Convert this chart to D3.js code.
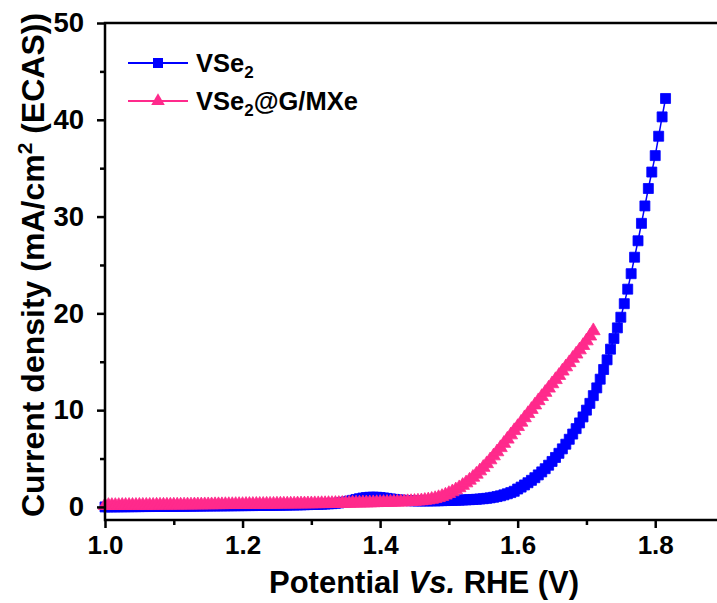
<!DOCTYPE html>
<html>
<head>
<meta charset="utf-8">
<script src="https://cdn.jsdelivr.net/npm/d3@7"></script>
<style>
  body { margin: 0; background: #fff; }
  text { font-family: Arial, "Liberation Sans", sans-serif; font-weight: bold; }
</style>
</head>
<body>
<script>
// Potential sweep (V): start and step of the recorded points
var startPotential = 1.0;
var stepPotential = 0.005;

// VSe2 current density, one value per step from 1.000 V to 1.815 V
var vse2Values = [
  0.00, 0.00, 0.01, 0.01, 0.01, 0.02, 0.02, 0.02, 0.03, 0.03, 0.03, 0.04, 0.04, 0.04, 0.05, 0.05, 0.05, 0.06, 0.06, 0.06,
  0.07, 0.07, 0.07, 0.08, 0.08, 0.08, 0.09, 0.09, 0.09, 0.10, 0.10, 0.10, 0.11, 0.11, 0.11, 0.12, 0.12, 0.12, 0.13, 0.13,
  0.13, 0.14, 0.14, 0.14, 0.15, 0.15, 0.16, 0.16, 0.17, 0.17, 0.18, 0.18, 0.19, 0.19, 0.20, 0.20, 0.21, 0.22, 0.23, 0.24,
  0.25, 0.26, 0.27, 0.28, 0.30, 0.32, 0.34, 0.37, 0.41, 0.46, 0.52, 0.60, 0.68, 0.77, 0.85, 0.92, 0.97, 1.00, 1.01, 1.00,
  0.97, 0.93, 0.88, 0.83, 0.78, 0.74, 0.71, 0.68, 0.66, 0.64, 0.63, 0.62, 0.62, 0.62, 0.62, 0.63, 0.63, 0.64, 0.65, 0.66,
  0.67, 0.68, 0.69, 0.70, 0.72, 0.73, 0.75, 0.77, 0.79, 0.82, 0.85, 0.89, 0.94, 1.00, 1.07, 1.15, 1.25, 1.36, 1.48, 1.62,
  1.85, 2.05, 2.27, 2.50, 2.75, 3.02, 3.31, 3.62, 3.95, 4.31, 4.70, 5.11, 5.54, 6.00, 6.48, 6.99, 7.53, 8.09, 8.68, 9.30,
  10.0, 10.7, 11.5, 12.3, 13.2, 14.2, 15.2, 16.3, 17.4, 18.5, 19.6, 21.0, 22.5, 24.1, 25.8, 27.5, 29.3, 31.1, 32.9, 34.6,
  36.3, 38.3, 40.3, 42.2
];

// VSe2@G/MXe current density, one value per step from 1.000 V to 1.710 V
var vse2gmxValues = [
  0.15, 0.15, 0.15, 0.15, 0.15, 0.16, 0.16, 0.16, 0.16, 0.16, 0.17, 0.17, 0.17, 0.17, 0.17, 0.18, 0.18, 0.18, 0.18, 0.18,
  0.19, 0.19, 0.19, 0.20, 0.20, 0.20, 0.21, 0.21, 0.21, 0.22, 0.22, 0.22, 0.23, 0.23, 0.23, 0.24, 0.24, 0.24, 0.25, 0.25,
  0.25, 0.26, 0.26, 0.26, 0.27, 0.27, 0.27, 0.28, 0.28, 0.28, 0.29, 0.29, 0.29, 0.30, 0.30, 0.30, 0.31, 0.31, 0.31, 0.32,
  0.32, 0.33, 0.33, 0.34, 0.34, 0.35, 0.35, 0.36, 0.36, 0.37, 0.38, 0.38, 0.39, 0.40, 0.40, 0.41, 0.42, 0.42, 0.43, 0.44,
  0.45, 0.46, 0.47, 0.48, 0.49, 0.50, 0.51, 0.52, 0.54, 0.55, 0.57, 0.60, 0.63, 0.67, 0.72, 0.78, 0.86, 0.96, 1.08, 1.22,
  1.38, 1.56, 1.76, 1.98, 2.22, 2.48, 2.76, 3.06, 3.38, 3.72, 4.08, 4.46, 4.86, 5.27, 5.69, 6.12, 6.56, 7.00, 7.44, 7.88,
  8.30, 8.75, 9.21, 9.64, 10.07, 10.53, 10.97, 11.40, 11.83, 12.27, 12.72, 13.15, 13.58, 14.03, 14.47, 14.90, 15.35, 15.79, 16.22, 16.67,
  17.15, 17.65, 18.20
];

var seriesNames = ["VSe2", "VSe2@G/MXe"];
var seriesColors = ["#0000ff", "#ff2a8c"];

var xTicks = [1.0, 1.2, 1.4, 1.6, 1.8];
var xMinorTicks = [1.1, 1.3, 1.5, 1.7, 1.9];
var yTicks = [0, 10, 20, 30, 40, 50];
var yMinorTicks = [5, 15, 25, 35, 45];

var w = 717;
var h = 603;

var x = d3.scaleLinear().domain([1.0, 1.9]).range([105, 724]);
var y = d3.scaleLinear().domain([-1.35, 50]).range([520, 23]);

var svg = d3.select("body").append("svg")
  .attr("width", w)
  .attr("height", h);

function toPoints(values) {
  return values.map(function(v, i) {
    return [startPotential + i * stepPotential, v];
  });
}

var series = [toPoints(vse2Values), toPoints(vse2gmxValues)];
var symbols = [d3.symbol(d3.symbolSquare, 100), d3.symbol(d3.symbolTriangle, 80)];

var line = d3.line()
  .x(function(d) { return x(d[0]); })
  .y(function(d) { return y(d[1]); });

series.forEach(function(pts, k) {
  var g = svg.append("g");
  g.append("path")
    .attr("d", line(pts))
    .attr("fill", "none")
    .attr("stroke", seriesColors[k])
    .attr("stroke-width", 1.5);
  g.selectAll("path.m")
    .data(pts)
    .enter()
    .append("path")
    .attr("class", "m")
    .attr("d", symbols[k])
    .attr("transform", function(d) { return "translate(" + x(d[0]) + "," + y(d[1]) + ")"; })
    .attr("fill", seriesColors[k])
    .attr("stroke", seriesColors[k])
    .attr("stroke-width", 0.8);
});

// Frame
var x0 = x.range()[0], x1 = x.range()[1], yTop = y.range()[1], yBot = y.range()[0];
svg.append("path")
  .attr("d", "M" + x1 + "," + yTop + "H" + x0 + "V" + yBot + "H" + x1)
  .attr("fill", "none")
  .attr("stroke", "#000")
  .attr("stroke-width", 2.5);

// Axes
var xAx = svg.append("g")
  .attr("transform", "translate(0," + yBot + ")")
  .call(d3.axisBottom(x).tickValues(xTicks).tickSize(8).tickPadding(8).tickFormat(d3.format(".1f")));
svg.append("g")
  .attr("transform", "translate(0," + yBot + ")")
  .call(d3.axisBottom(x).tickValues(xMinorTicks).tickSize(5).tickFormat(""));

var yAx = svg.append("g")
  .attr("transform", "translate(" + x0 + ",0)")
  .call(d3.axisLeft(y).tickValues(yTicks).tickSize(8).tickPadding(13));
svg.append("g")
  .attr("transform", "translate(" + x0 + ",0)")
  .call(d3.axisLeft(y).tickValues(yMinorTicks).tickSize(5).tickFormat(""));

svg.selectAll(".domain").remove();
svg.selectAll(".tick line").attr("stroke", "#000").attr("stroke-width", 2.5);
svg.selectAll(".tick text").attr("fill", "#000");
xAx.selectAll(".tick text").style("font-size", "26px");
yAx.selectAll(".tick text").style("font-size", "27.5px");

// Axis titles
var xTitle = svg.append("text")
  .attr("x", 424)
  .attr("y", 593)
  .attr("text-anchor", "middle")
  .style("font-size", "31px");
xTitle.append("tspan").text("Potential ");
xTitle.append("tspan").style("font-style", "italic").text("Vs.");
xTitle.append("tspan").text(" RHE (V)");

var yTitle = svg.append("text")
  .attr("transform", "translate(44,265) rotate(-90)")
  .attr("text-anchor", "middle")
  .style("font-size", "32px");
yTitle.append("tspan").text("Current density (mA/cm");
yTitle.append("tspan").attr("dy", -12).style("font-size", "21px").text("2");
yTitle.append("tspan").attr("dy", 12).text(" (ECAS))");

// Legend
var legendY = [63, 101];
seriesNames.forEach(function(name, k) {
  var lg = svg.append("g");
  lg.append("line")
    .attr("x1", 128).attr("x2", 188)
    .attr("y1", legendY[k]).attr("y2", legendY[k])
    .attr("stroke", seriesColors[k])
    .attr("stroke-width", 2);
  lg.append("path")
    .attr("d", symbols[k])
    .attr("transform", "translate(158," + legendY[k] + ")")
    .attr("fill", seriesColors[k]);
  var t = lg.append("text")
    .attr("x", 196)
    .attr("y", legendY[k] + 9)
    .style("font-size", "25.5px");
  t.append("tspan").text("VSe");
  t.append("tspan").attr("dy", 6).style("font-size", "17px").text("2");
  if (k === 1) {
    t.append("tspan").attr("dy", -6).text("@G/MXe");
  }
});
</script>
</body>
</html>
